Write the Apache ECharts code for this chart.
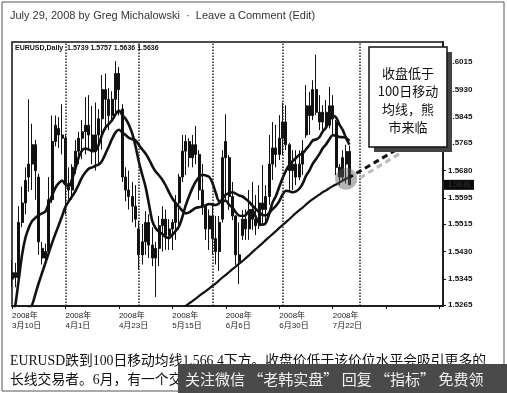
<!DOCTYPE html>
<html><head><meta charset="utf-8">
<script src="https://cdn.jsdelivr.net/npm/echarts@6/dist/echarts.min.js"></script>
<style>html,body{margin:0;padding:0;background:#fff}#c{width:507px;height:393px}</style>
</head><body><div id="c"></div>
<script>
// [open, close, low, high]
const candles = [
[1.5345,1.5365,1.5320,1.5404],[1.5365,1.5350,1.5320,1.5395],[1.5350,1.5520,1.5330,1.5570],[1.5520,1.5580,1.5505,1.5630],
[1.5580,1.5650,1.5545,1.5690],[1.5660,1.5700,1.5615,1.5900],[1.5700,1.5760,1.5620,1.5825],[1.5760,1.5680,1.5590,1.5775],
[1.5660,1.5460,1.5420,1.5670],[1.5440,1.5410,1.5390,1.5460],[1.5410,1.5430,1.5385,1.5455],[1.5430,1.5590,1.5420,1.5660],
[1.5590,1.5770,1.5580,1.5850],[1.5770,1.5820,1.5755,1.5850],[1.5810,1.5790,1.5750,1.5845],[1.5790,1.5780,1.5730,1.5885],
[1.5780,1.5640,1.5545,1.5790],[1.5640,1.5620,1.5590,1.5690],[1.5620,1.5690,1.5590,1.5700],[1.5690,1.5740,1.5670,1.5775],
[1.5740,1.5780,1.5700,1.5800],[1.5780,1.5800,1.5715,1.5836],[1.5800,1.5820,1.5730,1.5907],[1.5820,1.5790,1.5745,1.5913],
[1.5790,1.5740,1.5700,1.5880],[1.5740,1.5790,1.5680,1.5890],[1.5790,1.5840,1.5700,1.5870],[1.5840,1.5930,1.5745,1.5975],
[1.5930,1.5900,1.5805,1.5980],[1.5900,1.5850,1.5805,1.5935],[1.5850,1.5900,1.5830,1.5925],[1.5900,1.5980,1.5860,1.6018],
[1.5980,1.5930,1.5850,1.6000],[1.5870,1.5660,1.5645,1.5885],[1.5660,1.5620,1.5585,1.5690],[1.5620,1.5600,1.5560,1.5680],
[1.5600,1.5570,1.5520,1.5645],[1.5570,1.5530,1.5505,1.5635],[1.5500,1.5420,1.5375,1.5525],[1.5420,1.5460,1.5390,1.5515],
[1.5460,1.5520,1.5420,1.5555],[1.5520,1.5450,1.5410,1.5545],[1.5450,1.5410,1.5385,1.5505],[1.5410,1.5440,1.5290,1.5460],
[1.5440,1.5510,1.5385,1.5540],[1.5510,1.5530,1.5430,1.5570],[1.5530,1.5480,1.5435,1.5560],[1.5480,1.5500,1.5435,1.5530],
[1.5500,1.5520,1.5435,1.5530],[1.5520,1.5580,1.5466,1.5605],[1.5580,1.5660,1.5497,1.5670],[1.5660,1.5740,1.5645,1.5790],
[1.5740,1.5770,1.5666,1.5790],[1.5770,1.5720,1.5690,1.5780],[1.5720,1.5760,1.5690,1.5790],[1.5760,1.5730,1.5700,1.5818],
[1.5730,1.5620,1.5590,1.5743],[1.5620,1.5570,1.5543,1.5700],[1.5570,1.5500,1.5466,1.5574],[1.5500,1.5540,1.5435,1.5560],
[1.5540,1.5470,1.5420,1.5575],[1.5470,1.5430,1.5390,1.5540],[1.5430,1.5520,1.5370,1.5540],[1.5530,1.5720,1.5520,1.5743],
[1.5720,1.5770,1.5589,1.5854],[1.5720,1.5600,1.5558,1.5728],[1.5600,1.5540,1.5527,1.5645],[1.5540,1.5420,1.5389,1.5543],
[1.5420,1.5400,1.5330,1.5520],[1.5480,1.5530,1.5466,1.5558],[1.5530,1.5500,1.5466,1.5560],[1.5500,1.5560,1.5466,1.5620],
[1.5560,1.5530,1.5497,1.5645],[1.5530,1.5510,1.5481,1.5605],[1.5510,1.5580,1.5500,1.5635],[1.5580,1.5560,1.5512,1.5697],
[1.5560,1.5600,1.5512,1.5635],[1.5600,1.5700,1.5574,1.5790],[1.5700,1.5750,1.5651,1.5830],[1.5750,1.5730,1.5690,1.5821],
[1.5730,1.5780,1.5713,1.5851],[1.5780,1.5830,1.5728,1.5890],[1.5830,1.5760,1.5743,1.5882],[1.5760,1.5680,1.5620,1.5765],
[1.5680,1.5700,1.5620,1.5743],[1.5700,1.5660,1.5635,1.5743],[1.5660,1.5700,1.5651,1.5743],[1.5700,1.5740,1.5666,1.5774],
[1.5790,1.5880,1.5781,1.5944],[1.5880,1.5850,1.5790,1.5923],[1.5850,1.5930,1.5836,1.5959],[1.5930,1.5860,1.5851,1.6038],
[1.5860,1.5830,1.5805,1.5913],[1.5830,1.5860,1.5805,1.5882],[1.5860,1.5820,1.5805,1.5898],[1.5820,1.5880,1.5810,1.5938],
[1.5880,1.5840,1.5790,1.5913],[1.5830,1.5690,1.5666,1.5836],[1.5690,1.5660,1.5635,1.5700],[1.5660,1.5720,1.5651,1.5743],
[1.5700,1.5739,1.5640,1.5760],[1.5739,1.5636,1.5636,1.5757]
];
const ma10 = [
1.5219,1.5265,1.5342,1.5419,1.5472,1.5503,1.5524,1.5534,1.5543,1.5548,1.5554,1.5578,1.5603,1.5627,1.5641,1.5649,
1.5637,1.5631,1.5654,1.5687,1.5722,1.5743,1.5748,1.5745,1.5740,1.5741,1.5761,1.5792,1.5813,1.5824,1.5836,1.5854,
1.5865,1.5852,1.5840,1.5821,1.5794,1.5754,1.5706,1.5667,1.5629,1.5576,1.5524,1.5502,1.5491,1.5484,1.5475,1.5472,
1.5482,1.5494,1.5508,1.5537,1.5573,1.5601,1.5626,1.5646,1.5660,1.5667,1.5665,1.5661,1.5642,1.5611,1.5586,1.5586,
1.5587,1.5574,1.5566,1.5551,1.5541,1.5540,1.5543,1.5556,1.5557,1.5536,1.5517,1.5513,1.5519,1.5547,1.5582,1.5602,
1.5630,1.5657,1.5680,1.5697,1.5709,1.5719,1.5729,1.5733,1.5746,1.5758,1.5773,1.5776,1.5783,1.5801,1.5813,1.5835,
1.5849,1.5844,1.5822,1.5805,1.5780,1.5760
];
const ma20 = [
1.5142,1.5164,1.5188,1.5213,1.5237,1.5254,1.5265,1.5299,1.5333,1.5364,1.5395,1.5426,1.5457,1.5485,1.5512,1.5540,
1.5568,1.5586,1.5601,1.5617,1.5638,1.5660,1.5675,1.5686,1.5690,1.5695,1.5699,1.5711,1.5733,1.5755,1.5779,1.5798,
1.5806,1.5798,1.5790,1.5781,1.5777,1.5773,1.5759,1.5745,1.5732,1.5715,1.5694,1.5677,1.5665,1.5652,1.5634,1.5613,
1.5594,1.5580,1.5568,1.5556,1.5548,1.5551,1.5558,1.5565,1.5567,1.5569,1.5573,1.5577,1.5575,1.5574,1.5579,1.5593,
1.5606,1.5610,1.5613,1.5609,1.5603,1.5600,1.5592,1.5583,1.5571,1.5561,1.5552,1.5543,1.5542,1.5549,1.5561,1.5571,
1.5586,1.5606,1.5618,1.5616,1.5613,1.5616,1.5624,1.5640,1.5664,1.5680,1.5701,1.5716,1.5731,1.5749,1.5761,1.5777,
1.5789,1.5788,1.5784,1.5783,1.5781,1.5772
];
const ma100 = [
null,null,null,null,null,null,null,null,null,null,null,null,null,null,null,null,
null,null,null,null,null,null,null,null,null,null,null,null,null,null,null,null,
null,null,null,null,null,null,null,null,null,null,null,null,null,null,null,null,
null,null,1.5246,1.5254,1.5262,1.5270,1.5277,1.5285,1.5293,1.5301,1.5308,1.5316,1.5324,1.5332,1.5341,1.5350,
1.5358,1.5367,1.5376,1.5384,1.5393,1.5401,1.5410,1.5419,1.5429,1.5438,1.5447,1.5456,1.5466,1.5475,1.5484,1.5493,
1.5503,1.5512,1.5521,1.5530,1.5540,1.5549,1.5558,1.5566,1.5575,1.5584,1.5592,1.5599,1.5606,1.5613,1.5619,1.5626,
1.5632,1.5637,1.5643,1.5649,1.5655,1.5660
];
const yTicks = [1.6015,1.5930,1.5845,1.5765,1.5680,1.5595,1.5515,1.5430,1.5345,1.5265];
const lastClose = 1.5636;
const monthSeparators = ['2008-4-1','2008-5-1','2008-6-2','2008-7-1','2008-8-1'];
const headerText = 'EURUSD,Daily  1.5739 1.5757 1.5636 1.5636';
const postLine = 'July 29, 2008 by Greg Michalowski  ·  Leave a Comment (Edit)';
const noteText = '收盘低于\n100日移动\n均线，熊\n市来临';
const captionLines = ['EURUSD跌到100日移动均线1.566 4下方。收盘价低于该价位水平会吸引更多的','长线交易者。6月，有一个交'];
const watermark = '关注微信 “老韩实盘” 回复 “指标” 免费领';

// trading-day slots (weekdays) starting 2008-03-10, with empty space after the data
const TOTAL_SLOTS = 130;
const categories = [];
{
  const d = new Date(Date.UTC(2008, 2, 10));
  while (categories.length < TOTAL_SLOTS) {
    const wd = d.getUTCDay();
    if (wd !== 0 && wd !== 6) categories.push(d.getUTCFullYear() + '-' + (d.getUTCMonth() + 1) + '-' + d.getUTCDate());
    d.setUTCDate(d.getUTCDate() + 1);
  }
}
const lastIdx = candles.length - 1;

const chart = echarts.init(document.getElementById('c'), null, {renderer: 'canvas'});
const lineStyleBase = {color: '#111'};
chart.setOption({
  animation: false,
  backgroundColor: '#fff',
  grid: {left: 12, top: 42, right: 64, bottom: 87, show: true, borderColor: '#111', borderWidth: 1.5, backgroundColor: 'transparent'},
  xAxis: {
    type: 'category', data: categories, boundaryGap: false,
    axisLine: {show: true, lineStyle: {color: '#111', width: 1.5}},
    axisTick: {show: true, interval: 15, length: 3, lineStyle: {color: '#111'}},
    splitLine: {show: false},
    axisLabel: {
      interval: 15, align: 'left', fontSize: 8, lineHeight: 10, color: '#222', margin: 5,
      fontFamily: 'Liberation Sans, Noto Sans CJK SC',
      formatter: (v, i) => {
        if (i > lastIdx) return '';
        const p = v.split('-');
        return p[0] + '年\n' + p[1] + '月' + p[2] + '日';
      }
    }
  },
  yAxis: {
    type: 'value', position: 'right', min: 1.5262, max: 1.6077, scale: true,
    splitLine: {show: false},
    axisLine: {show: true, lineStyle: {color: '#111', width: 1.5}},
    axisTick: {show: true, customValues: yTicks, length: 3, lineStyle: {color: '#111'}},
    axisLabel: {customValues: yTicks, formatter: v => v.toFixed(4), fontSize: 8, fontWeight: 'bold',
      fontFamily: 'Liberation Sans Narrow, Liberation Sans', color: '#111', margin: 5, hideOverlap: false}
  },
  series: [
    {
      type: 'candlestick', data: candles, barWidth: 2.5, clip: true,
      itemStyle: {color: '#111', color0: '#111', borderColor: '#111', borderColor0: '#111', borderWidth: 1},
      markLine: {
        symbol: ['none', 'none'], silent: true, animation: false,
        data: monthSeparators.map(c => ({xAxis: c, lineStyle: {type: 'dotted', color: '#222', width: 1.5}, label: {show: false}}))
      }
    },
    {type: 'line', data: ma10, showSymbol: false, smooth: 0.3, clip: true, lineStyle: Object.assign({width: 2.6}, lineStyleBase), z: 3},
    {type: 'line', data: ma20, showSymbol: false, smooth: 0.3, clip: true, lineStyle: Object.assign({width: 2.6}, lineStyleBase), z: 3},
    {type: 'line', data: ma100, showSymbol: false, smooth: 0.3, clip: true, connectNulls: false,
      lineStyle: Object.assign({width: 2.2}, lineStyleBase), z: 3,
      markPoint: {symbol: 'circle', symbolSize: 22, silent: true, label: {show: false},
        itemStyle: {color: 'rgba(90,90,90,0.45)'},
        data: [{coord: [categories[100], ma100[100]]}]}}
  ]
});

// current-price marker on the right axis, placed through the axis scale
const priceY = chart.convertToPixel({yAxisIndex: 0}, lastClose);
const axisX = chart.convertToPixel({xAxisIndex: 0}, categories[TOTAL_SLOTS - 1]);

chart.setOption({
  graphic: [
    {type: 'rect', shape: {x: 2, y: 2, width: 502, height: 389}, style: {fill: 'none', stroke: '#555', lineWidth: 1}, z: 1},
    {type: 'rect', shape: {x: axisX + 1, y: priceY - 5, width: 30, height: 10}, style: {fill: '#0a0a0a'}, z: 40},
    {type: 'text', x: axisX + 5, y: priceY, style: {text: lastClose.toFixed(4), font: 'bold 8px "Liberation Sans Narrow"', fill: '#2a2a2a', verticalAlign: 'middle'}, z: 41},
    {type: 'text', x: 10, y: 16, style: {text: postLine, font: '11px "Liberation Sans", Arial', fill: '#333', verticalAlign: 'middle'}},
    {type: 'text', x: 15, y: 48, style: {text: headerText, font: 'bold 7px "Liberation Sans"', fill: '#111', verticalAlign: 'middle'}, z: 10},
    {type: 'rect', shape: {x: 374, y: 52, width: 78, height: 100}, style: {fill: '#444'}, z: 20},
    {type: 'rect', shape: {x: 369, y: 47, width: 78, height: 100}, style: {fill: '#fff', stroke: '#111', lineWidth: 1.5}, z: 21},
    {type: 'text', x: 408, y: 100, style: {text: noteText, font: '13px "Noto Sans CJK SC"', lineHeight: 18, fill: '#111', align: 'center', verticalAlign: 'middle'}, z: 22},
    {type: 'line', shape: {x1: 399, y1: 154, x2: 355, y2: 181}, style: {stroke: '#bbb', lineWidth: 3, lineDash: [6, 4]}, z: 18},
    {type: 'line', shape: {x1: 396, y1: 150, x2: 350, y2: 177}, style: {stroke: '#111', lineWidth: 3, lineDash: [6, 4]}, z: 19},
    {type: 'text', x: 10, y: 361, style: {text: captionLines[0], font: '13.8px "Liberation Serif", "Noto Sans CJK SC"', fill: '#111', verticalAlign: 'middle'}},
    {type: 'text', x: 10, y: 380, style: {text: captionLines[1], font: '13.8px "Liberation Serif", "Noto Sans CJK SC"', fill: '#111', verticalAlign: 'middle'}},
    {type: 'rect', shape: {x: 178, y: 364, width: 329, height: 29}, style: {fill: '#4a4a4a'}, z: 30},
    {type: 'text', x: 185, y: 379, style: {text: watermark, font: '15px "Noto Sans CJK SC"', fill: '#f2f2f2', verticalAlign: 'middle'}, z: 31}
  ]
});
</script></body></html>
